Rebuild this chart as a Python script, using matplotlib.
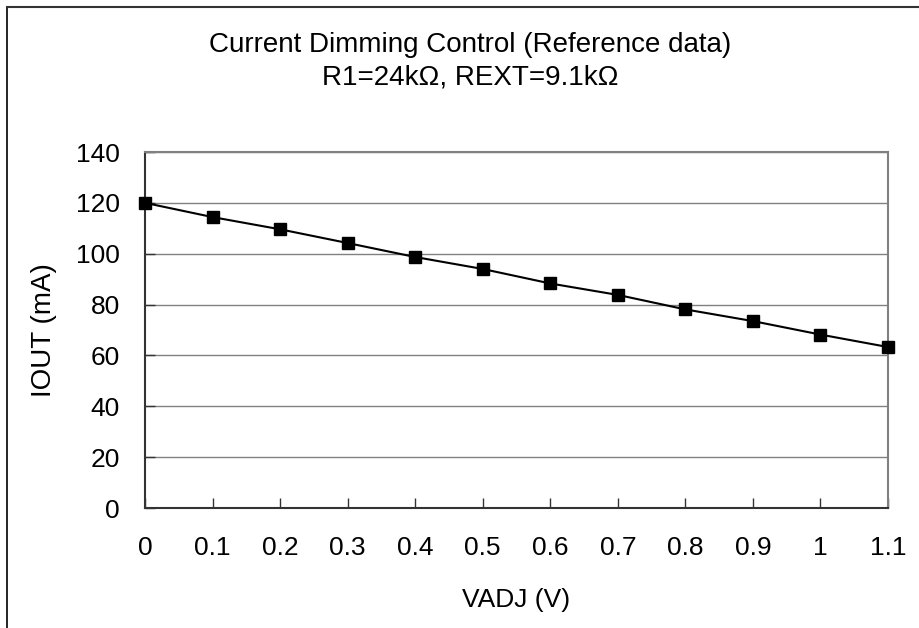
import matplotlib
matplotlib.use('Agg')
import matplotlib.pyplot as plt
from matplotlib.lines import Line2D

plt.rcParams['font.family'] = ['Liberation Sans', 'DejaVu Sans']

vadj = [0, 0.1, 0.2, 0.3, 0.4, 0.5, 0.6, 0.7, 0.8, 0.9, 1.0, 1.1]
iout = [120, 114.4, 109.6, 104.2, 98.7, 94.0, 88.3, 83.8, 78.1, 73.5, 68.2, 63.3]
xticks = [0, 0.1, 0.2, 0.3, 0.4, 0.5, 0.6, 0.7, 0.8, 0.9, 1, 1.1]
xtick_labels = ['0', '0.1', '0.2', '0.3', '0.4', '0.5', '0.6', '0.7', '0.8', '0.9', '1', '1.1']
yticks = [0, 20, 40, 60, 80, 100, 120, 140]

fig = plt.figure(figsize=(9.19, 6.28), dpi=100)
ax = fig.add_axes([145/919, 1 - 508/628, (888-145)/919, (508-152)/628])

ax.plot(vadj, iout, color='black', lw=1.5, marker='s', ms=8, clip_on=False, zorder=3)

ax.set_xlim(0, 1.1)
ax.set_ylim(0, 140)
ax.set_xticks(xticks)
ax.set_xticklabels(xtick_labels)
ax.set_yticks(yticks)
ax.yaxis.grid(True, color='#808080', lw=1)
ax.set_axisbelow(True)

ax.tick_params(axis='x', direction='in', length=7, width=1, color='#333333', pad=20, labelsize=19)
ax.tick_params(axis='y', direction='in', length=7, width=1, color='#333333', pad=18, labelsize=19)

for s in ['left', 'bottom']:
    ax.spines[s].set_color('#333333')
    ax.spines[s].set_linewidth(1.5)
for s in ['top', 'right']:
    ax.spines[s].set_color('#808080')
    ax.spines[s].set_linewidth(1.5)

ax.set_xlabel('VADJ (V)', fontsize=19, labelpad=20)
ax.set_ylabel('IOUT (mA)', fontsize=20, labelpad=14)

fig.text(470/919, 1 - 45/628, 'Current Dimming Control (Reference data)', ha='center', va='center', fontsize=20)
fig.text(470/919, 1 - 77/628, 'R1=24kΩ, REXT=9.1kΩ', ha='center', va='center', fontsize=20)

# outer chart frame (only left and top edges visible)
fig.add_artist(Line2D([7/919, 7/919], [0, 1 - 7/628], color='black', lw=1.2, transform=fig.transFigure))
fig.add_artist(Line2D([7/919, 1], [1 - 7/628, 1 - 7/628], color='#333333', lw=1.5, transform=fig.transFigure))

fig.savefig('out.png', dpi=100)
